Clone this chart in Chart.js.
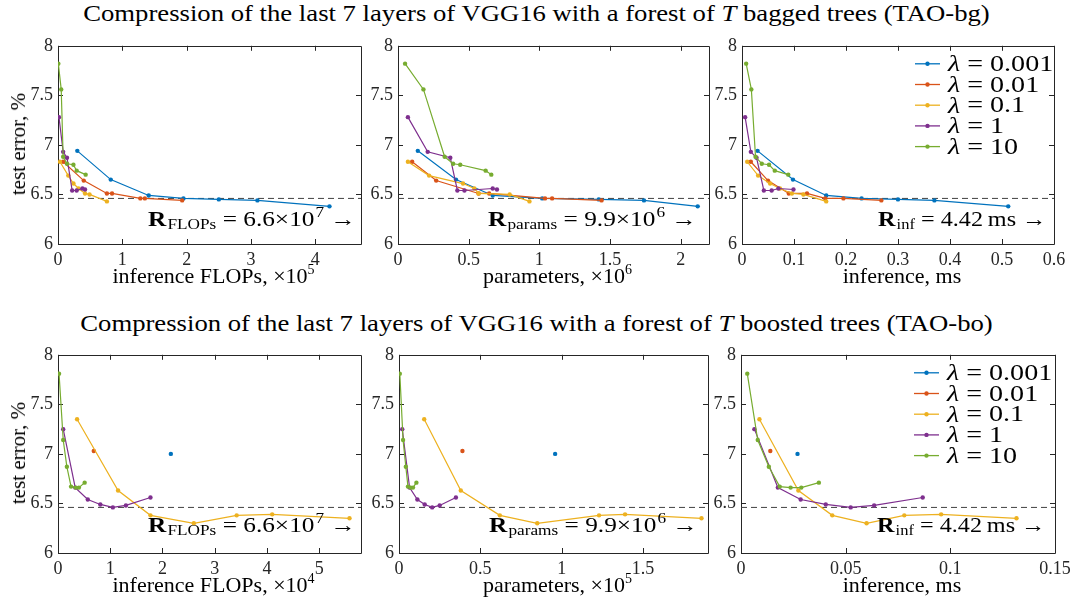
<!DOCTYPE html>
<html>
<head>
<meta charset="utf-8">
<script src="https://cdn.jsdelivr.net/npm/chart.js@4.4.0/dist/chart.umd.min.js"></script>
<style>
  body { margin: 0; background: #fff; font-family: 'Liberation Serif', serif; color: #000; }
  #lienzo { position: relative; width: 1073px; height: 605px; overflow: hidden; }
  #lienzo canvas { position: absolute; }
  .titulo { position: absolute; left: 0; width: 1073px; text-align: center; font-size: 23px; line-height: 24px; white-space: nowrap; transform: scaleX(1.16); }
  .ejeX { position: absolute; text-align: center; font-size: 22px; line-height: 22px; white-space: nowrap; }
  .ejeY { position: absolute; font-size: 21px; line-height: 22px; white-space: nowrap; transform: translate(-50%, -50%) rotate(-90deg); }
  sup { font-size: 14px; vertical-align: 9px; line-height: 0; }
</style>
</head>
<body>
<div id="lienzo">
  <div class="titulo" style="top:2px">Compression of the last 7 layers of VGG16 with a forest of <i>T</i> bagged trees (TAO-bg)</div>
  <div class="titulo" style="top:312px">Compression of the last 7 layers of VGG16 with a forest of <i>T</i> boosted trees (TAO-bo)</div>
</div>
<script>
// Valores de lambda de cada curva
const lambdas = ['0.001', '0.01', '0.1', '1', '10'];

// ---- TAO-bg (fila de arriba) ----
// error de test (%)
const bgError0001 = [6.94, 6.65, 6.49, 6.46, 6.45, 6.44, 6.38];
const bgError001 = [6.83, 6.64, 6.51, 6.51, 6.46, 6.46, 6.44];
const bgError01 = [6.83, 6.69, 6.61, 6.56, 6.51, 6.50, 6.43];
const bgError1 = [7.28, 6.93, 6.87, 6.54, 6.54, 6.56, 6.55];
const bgError10 = [7.82, 7.56, 6.88, 6.81, 6.80, 6.74, 6.70];
// inferencia FLOPs (x10^5)
const bgFlops0001 = [0.30, 0.82, 1.41, 1.95, 2.50, 3.10, 4.22];
const bgFlops001 = [0.08, 0.40, 0.76, 0.84, 1.28, 1.35, 1.93];
const bgFlops01 = [0.03, 0.16, 0.24, 0.32, 0.42, 0.49, 0.76];
const bgFlops1 = [0.015, 0.08, 0.14, 0.22, 0.29, 0.38, 0.42];
const bgFlops10 = [0.005, 0.05, 0.08, 0.14, 0.24, 0.29, 0.43];
// parametros (x10^6)
const bgParams0001 = [0.14, 0.41, 0.67, 1.02, 1.42, 1.74, 2.12];
const bgParams001 = [0.10, 0.27, 0.57, 0.645, 1.04, 1.09, 1.44];
const bgParams01 = [0.07, 0.22, 0.46, 0.54, 0.57, 0.79, 0.93];
const bgParams1 = [0.07, 0.21, 0.37, 0.42, 0.47, 0.67, 0.70];
const bgParams10 = [0.05, 0.18, 0.33, 0.39, 0.44, 0.62, 0.66];
// inferencia (ms)
const bgInf0001 = [0.030, 0.098, 0.162, 0.230, 0.300, 0.370, 0.512];
const bgInf001 = [0.017, 0.050, 0.090, 0.125, 0.160, 0.195, 0.268];
const bgInf01 = [0.010, 0.031, 0.054, 0.073, 0.096, 0.118, 0.162];
const bgInf1 = [0.006, 0.017, 0.028, 0.042, 0.057, 0.070, 0.099];
const bgInf10 = [0.008, 0.018, 0.026, 0.038, 0.052, 0.063, 0.089];

// ---- TAO-bo (fila de abajo) ----
const boError0001 = [7.00];
const boError001 = [7.03];
const boError01 = [7.35, 6.63, 6.38, 6.30, 6.38, 6.39, 6.35];
const boError1 = [7.25, 6.66, 6.54, 6.49, 6.46, 6.48, 6.56];
const boError10 = [7.81, 7.14, 6.87, 6.67, 6.66, 6.66, 6.71];
// inferencia FLOPs (x10^4)
const boFlops0001 = [2.16];
const boFlops001 = [0.685];
const boFlops01 = [0.365, 1.15, 1.77, 2.60, 3.42, 4.10, 5.58];
const boFlops1 = [0.10, 0.33, 0.57, 0.81, 1.05, 1.30, 1.77];
const boFlops10 = [0.02, 0.10, 0.17, 0.25, 0.34, 0.40, 0.51];
// parametros (x10^5)
const boParams0001 = [0.96];
const boParams001 = [0.39];
const boParams01 = [0.155, 0.38, 0.62, 0.85, 1.23, 1.39, 1.86];
const boParams1 = [0.02, 0.065, 0.113, 0.158, 0.204, 0.250, 0.350];
const boParams10 = [0.005, 0.025, 0.042, 0.055, 0.072, 0.086, 0.107];
// inferencia (ms)
const boInf0001 = [0.027];
const boInf001 = [0.014];
const boInf01 = [0.0088, 0.0274, 0.0436, 0.060, 0.078, 0.0956, 0.1316];
const boInf1 = [0.0064, 0.0176, 0.0285, 0.0405, 0.0524, 0.0636, 0.0868];
const boInf10 = [0.0030, 0.008, 0.0133, 0.0185, 0.0237, 0.0288, 0.0372];

// Error del modelo original (linea punteada)
const errorReferencia = 6.46;

// Ticks de los ejes
const yTicks = [6, 6.5, 7, 7.5, 8];
const xTicksFlopsBg = [0, 1, 2, 3, 4];
const xTicksParamsBg = [0, 0.5, 1, 1.5, 2];
const xTicksInfBg = [0, 0.1, 0.2, 0.3, 0.4, 0.5, 0.6];
const xTicksFlopsBo = [0, 1, 2, 3, 4, 5];
const xTicksParamsBo = [0, 0.5, 1, 1.5];
const xTicksInfBo = [0, 0.05, 0.1, 0.15];

// Colores por defecto de MATLAB
const colores = ['#0072BD', '#D95319', '#EDB120', '#7E2F8E', '#77AC30'];
const FUENTE = '"Liberation Serif", serif';

// Margenes del canvas alrededor del area de dibujo
const PAD_IZQ = 42, PAD_DER = 24, PAD_SUP = 14, PAD_INF = 30;

const bgErrores = [bgError0001, bgError001, bgError01, bgError1, bgError10];
const boErrores = [boError0001, boError001, boError01, boError1, boError10];

// Configuracion de cada panel: area en pixeles, limites, datos y textos
const paneles = [
  { area: [58, 44, 361, 244], xMax: 4.71, ticks: xTicksFlopsBg, xs: [bgFlops0001, bgFlops001, bgFlops01, bgFlops1, bgFlops10], ys: bgErrores,
    ejeX: 'inference FLOPs, ×10<sup>5</sup>', ejeY: true, nota: ['FLOPs', '6.6×10', '7'], notaX: 90, notaY: 180, escala: 1.15, leyenda: false },
  { area: [398, 44, 709, 244], xMax: 2.2, ticks: xTicksParamsBg, xs: [bgParams0001, bgParams001, bgParams01, bgParams1, bgParams10], ys: bgErrores,
    ejeX: 'parameters, ×10<sup>6</sup>', ejeY: false, nota: ['params', '9.9×10', '6'], notaX: 90, notaY: 180, escala: 1.15, leyenda: false },
  { area: [742, 44, 1054, 244], xMax: 0.6, ticks: xTicksInfBg, xs: [bgInf0001, bgInf001, bgInf01, bgInf1, bgInf10], ys: bgErrores,
    ejeX: 'inference, ms', ejeY: false, nota: ['inf', '4.42\u2009ms', ''], notaX: 136, notaY: 180, escala: 1.1, leyenda: true },
  { area: [58, 353, 361, 553], xMax: 5.8, ticks: xTicksFlopsBo, xs: [boFlops0001, boFlops001, boFlops01, boFlops1, boFlops10], ys: boErrores,
    ejeX: 'inference FLOPs, ×10<sup>4</sup>', ejeY: true, nota: ['FLOPs', '6.6×10', '7'], notaX: 90, notaY: 177, escala: 1.15, leyenda: false },
  { area: [399, 353, 708, 553], xMax: 1.9, ticks: xTicksParamsBo, xs: [boParams0001, boParams001, boParams01, boParams1, boParams10], ys: boErrores,
    ejeX: 'parameters, ×10<sup>5</sup>', ejeY: false, nota: ['params', '9.9×10', '6'], notaX: 90, notaY: 177, escala: 1.15, leyenda: false },
  { area: [741, 353, 1055, 553], xMax: 0.15, ticks: xTicksInfBo, xs: [boInf0001, boInf001, boInf01, boInf1, boInf10], ys: boErrores,
    ejeX: 'inference, ms', ejeY: false, nota: ['inf', '4.42\u2009ms', ''], notaX: 136, notaY: 177, escala: 1.1, leyenda: true }
];

const lienzo = document.getElementById('lienzo');

// Dibuja un trozo de texto y devuelve la x donde termina
function trozo(ctx, texto, x, y, fuente) {
  ctx.font = fuente;
  ctx.fillText(texto, x, y);
  return x + ctx.measureText(texto).width;
}

// Plugin: caja con ticks hacia adentro, nota "R = ..." y leyenda
const marco = {
  id: 'marco',
  beforeDatasetsDraw(chart) {
    const { ctx, chartArea: a, scales } = chart;
    ctx.save();
    ctx.strokeStyle = '#262626';
    ctx.lineWidth = 1;
    ctx.beginPath();
    scales.x.ticks.forEach(t => {
      const px = Math.round(scales.x.getPixelForValue(t.value)) + 0.5;
      ctx.moveTo(px, a.bottom); ctx.lineTo(px, a.bottom - 5);
      ctx.moveTo(px, a.top); ctx.lineTo(px, a.top + 5);
    });
    scales.y.ticks.forEach(t => {
      const py = Math.round(scales.y.getPixelForValue(t.value)) + 0.5;
      ctx.moveTo(a.left, py); ctx.lineTo(a.left + 5, py);
      ctx.moveTo(a.right, py); ctx.lineTo(a.right - 5, py);
    });
    ctx.rect(Math.round(a.left) + 0.5, Math.round(a.top) + 0.5, Math.round(a.width), Math.round(a.height));
    ctx.stroke();
    ctx.restore();
  },
  afterDatasetsDraw(chart, args, opts) {
    const { ctx, chartArea: a } = chart;
    ctx.save();
    ctx.fillStyle = '#000';
    ctx.textBaseline = 'alphabetic';
    // nota con el valor del modelo de referencia (texto algo ensanchado, como en la figura)
    ctx.translate(a.left + opts.notaX, a.top + opts.notaY);
    ctx.scale(opts.escala, 1);
    let x = trozo(ctx, 'R', 0, 0, 'bold 22px ' + FUENTE);
    x = trozo(ctx, opts.nota[0], x + 1, 3, '15px ' + FUENTE);
    x = trozo(ctx, ' = ' + opts.nota[1], x, 0, '22px ' + FUENTE);
    if (opts.nota[2]) x = trozo(ctx, opts.nota[2], x + 1, -9, '15px ' + FUENTE);
    trozo(ctx, ' \u2192', x, 0, '22px ' + FUENTE);
    ctx.restore();

    // leyenda
    if (opts.leyenda) {
      ctx.save();
      ctx.textBaseline = 'middle';
      lambdas.forEach((l, i) => {
        const y = a.top + 18 + i * 20.7;
        ctx.strokeStyle = colores[i];
        ctx.fillStyle = colores[i];
        ctx.lineWidth = 1.3;
        ctx.beginPath();
        ctx.moveTo(a.left + 173, y); ctx.lineTo(a.left + 198, y);
        ctx.stroke();
        ctx.beginPath();
        ctx.arc(a.left + 185.5, y, 2.2, 0, Math.PI * 2);
        ctx.fill();
        ctx.fillStyle = '#000';
        ctx.save();
        ctx.translate(a.left + 206, y + 1);
        ctx.scale(1.17, 1);
        const tx = trozo(ctx, '\u03bb', 0, 0, 'italic 24px ' + FUENTE);
        trozo(ctx, ' = ' + l, tx, 0, '24px ' + FUENTE);
        ctx.restore();
      });
      ctx.restore();
    }
  }
};

// Formato de ticks como en MATLAB: 0, 0.5, 1 ...
const formato = v => String(+v.toFixed(3));

function crearPanel(p) {
  const [l, t, r, b] = p.area;
  const canvas = document.createElement('canvas');
  canvas.width = PAD_IZQ + (r - l) + PAD_DER;
  canvas.height = PAD_SUP + (b - t) + PAD_INF;
  canvas.style.left = (l - PAD_IZQ) + 'px';
  canvas.style.top = (t - PAD_SUP) + 'px';
  lienzo.appendChild(canvas);

  const datasets = lambdas.map((lam, i) => ({
    label: '\u03bb = ' + lam,
    data: p.xs[i].map((x, j) => ({ x, y: p.ys[i][j] })),
    showLine: true,
    borderColor: colores[i],
    backgroundColor: colores[i],
    borderWidth: 1.2,
    pointRadius: 2.2,
    pointBorderWidth: 0,
    pointHoverRadius: 0,
    order: 4 - i
  }));
  // linea punteada del error de referencia
  datasets.push({
    data: [{ x: 0, y: errorReferencia }, { x: p.xMax, y: errorReferencia }],
    showLine: true,
    borderColor: '#404040',
    borderWidth: 1,
    borderDash: [6, 4],
    pointRadius: 0,
    order: 10
  });

  const ticksFont = { family: FUENTE, size: 18 };
  new Chart(canvas, {
    type: 'scatter',
    data: { datasets },
    options: {
      responsive: false,
      animation: false,
      events: [],
      layout: { padding: { left: 0, right: PAD_DER, top: PAD_SUP, bottom: 0 } },
      plugins: {
        legend: { display: false },
        tooltip: { enabled: false },
        marco: { nota: p.nota, notaX: p.notaX, notaY: p.notaY, escala: p.escala, leyenda: p.leyenda }
      },
      scales: {
        x: {
          type: 'linear', min: 0, max: p.xMax,
          grid: { display: false, drawTicks: false },
          border: { display: false },
          ticks: { font: ticksFont, color: '#262626', padding: 5, maxRotation: 0, autoSkip: false, callback: formato },
          afterBuildTicks: s => { s.ticks = p.ticks.map(v => ({ value: v })); },
          afterFit: s => { s.height = PAD_INF; }
        },
        y: {
          type: 'linear', min: 6, max: 8,
          grid: { display: false, drawTicks: false },
          border: { display: false },
          ticks: { font: ticksFont, color: '#262626', padding: 5, autoSkip: false, callback: formato },
          afterBuildTicks: s => { s.ticks = yTicks.map(v => ({ value: v })); },
          afterFit: s => { s.width = PAD_IZQ; }
        }
      }
    },
    plugins: [marco]
  });

  // Etiquetas de los ejes como texto HTML
  const ex = document.createElement('div');
  ex.className = 'ejeX';
  ex.innerHTML = p.ejeX;
  ex.style.left = (l + 4) + 'px';
  ex.style.width = (r - l) + 'px';
  ex.style.top = (b + 21) + 'px';
  lienzo.appendChild(ex);

  if (p.ejeY) {
    const ey = document.createElement('div');
    ey.className = 'ejeY';
    ey.textContent = 'test error, %';
    ey.style.left = '18px';
    ey.style.top = ((t + b) / 2) + 'px';
    lienzo.appendChild(ey);
  }
}

paneles.forEach(crearPanel);
</script>
</body>
</html>
